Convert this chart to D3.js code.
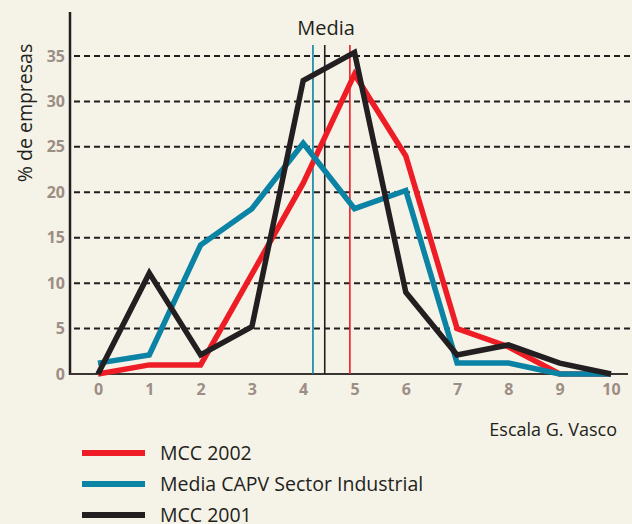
<!DOCTYPE html>
<html>
<head>
<meta charset="utf-8">
<style>
  body { margin: 0; background: #f5f2e7; }
  svg { display: block; }
  .tick text { font-family: 'Open Sans', sans-serif; font-weight: 700; font-size: 16px; fill: #9c8e84; }
  .lbl { font-family: 'Open Sans', sans-serif; fill: #231f20; }
</style>
<script src="https://d3js.org/d3.v7.min.js"></script>
</head>
<body>
<svg id="chart" width="632" height="524"></svg>
<script>
// escala 0..10
var escala = [0, 1, 2, 3, 4, 5, 6, 7, 8, 9, 10];
var yTicks = [0, 5, 10, 15, 20, 25, 30, 35];

var mcc2002 = [0, 1, 1, 11, 21, 33, 24, 5, 3, 0, 0];
var capv    = [1.2, 2.1, 14.2, 18.2, 25.4, 18.2, 20.2, 1.2, 1.2, 0, 0];
var mcc2001 = [0, 11.1, 2.1, 5.2, 32.3, 35.4, 9, 2.1, 3.2, 1.2, 0];

// medias
var medias = [4.19, 4.42, 4.91];
var mediaColors = ["#0a83a5", "#231f20", "#ee1d25"];

var svg = d3.select("#chart");
var x = d3.scaleLinear().domain([0, 10]).range([98, 611]);
var y = d3.scaleLinear().domain([0, 35]).range([374, 56]);

// grid
svg.append("g").selectAll("line").data(yTicks.filter(d => d > 0)).join("line")
  .attr("x1", 74).attr("x2", 632)
  .attr("y1", d => y(d)).attr("y2", d => y(d))
  .attr("stroke", "#231f20").attr("stroke-width", 2)
  .attr("stroke-dasharray", "6 4");

// axes
var yAxis = svg.append("g").attr("transform", "translate(70,0)")
  .call(d3.axisLeft(y).tickValues(yTicks).tickSize(0).tickPadding(5));
yAxis.select(".domain").remove();
svg.append("line").attr("x1", 70).attr("x2", 70).attr("y1", 12).attr("y2", 375)
  .attr("stroke", "#231f20").attr("stroke-width", 2.5);

var xAxis = svg.append("g").attr("transform", "translate(0,374)")
  .call(d3.axisBottom(x).tickValues(escala).tickSize(0).tickPadding(10));
xAxis.select(".domain").remove();
svg.append("line").attr("x1", 70).attr("x2", 628).attr("y1", 374).attr("y2", 374)
  .attr("stroke", "#3a3532").attr("stroke-width", 2);

// mean lines
svg.append("g").selectAll("line").data(medias).join("line")
  .attr("x1", d => x(d)).attr("x2", d => x(d))
  .attr("y1", 45).attr("y2", 374)
  .attr("stroke", (d, i) => mediaColors[i]).attr("stroke-width", 1.6);

svg.append("text").attr("class", "lbl").attr("x", 326).attr("y", 35)
  .attr("text-anchor", "middle").attr("font-size", 20).text("Media");

// series
var line = d3.line().x((d, i) => x(escala[i])).y(d => y(d));
var series = [
  { vals: mcc2002, color: "#ee1d25" },
  { vals: capv, color: "#0a83a5" },
  { vals: mcc2001, color: "#231f20" }
];
series.forEach(function (s) {
  svg.append("path").attr("d", line(s.vals))
    .attr("fill", "none").attr("stroke", s.color)
    .attr("stroke-width", 5.5).attr("stroke-linejoin", "miter");
});

// labels
svg.append("text").attr("class", "lbl")
  .attr("transform", "translate(32,113) rotate(-90)")
  .attr("text-anchor", "middle").attr("font-size", 19.5).text("% de empresas");

svg.append("text").attr("class", "lbl").attr("x", 617).attr("y", 436)
  .attr("text-anchor", "end").attr("font-size", 18).text("Escala G. Vasco");

// legend
var legend = ["MCC 2002", "Media CAPV Sector Industrial", "MCC 2001"];
var lg = svg.append("g").selectAll("g").data(legend).join("g")
  .attr("transform", (d, i) => "translate(0," + (453 + i * 31) + ")");
lg.append("line").attr("x1", 82).attr("x2", 145)
  .attr("stroke", (d, i) => series[i].color).attr("stroke-width", 6);
lg.append("text").attr("class", "lbl").attr("x", 160).attr("y", 7)
  .attr("font-size", 19.5).text(d => d);
</script>
</body>
</html>
